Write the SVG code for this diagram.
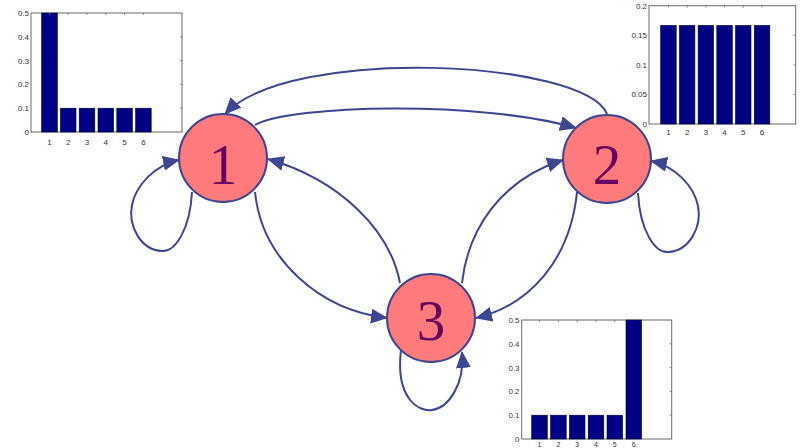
<svg xmlns="http://www.w3.org/2000/svg" width="800" height="448" viewBox="0 0 800 448">
<style>
.ax{fill:#fff;stroke:#6a6a6a;stroke-width:1}
.bar{fill:#000084;stroke:#000033;stroke-width:0.6}
.tl{font-family:"Liberation Sans",Arial,sans-serif;font-size:8px;fill:#333}
.tick{stroke:#6a6a6a;stroke-width:0.8}
.edge{fill:none;stroke:#3d4791;stroke-width:2}
.node{fill:#ff7b7b;stroke:#3d4791;stroke-width:2}
.lab{font-family:"Liberation Serif","DejaVu Serif",serif;font-size:57px;fill:#650060;text-anchor:middle}
</style>
<defs>
<marker id="ah" markerUnits="userSpaceOnUse" markerWidth="17" markerHeight="15" viewBox="0 0 17 15" refX="16" refY="7.5" orient="auto">
<path d="M0,0 L17,7.5 L0,15 z" fill="#3d4791"/>
</marker>
</defs>
<rect width="800" height="448" fill="#fff"/>

<g id="chart1">
<rect class="ax" x="31" y="13" width="151" height="119"/>
<g class="bar">
<rect x="41.7" y="13" width="15.6" height="119"/>
<rect x="60.4" y="108.2" width="15.6" height="23.8"/>
<rect x="79.2" y="108.2" width="15.6" height="23.8"/>
<rect x="98" y="108.2" width="15.6" height="23.8"/>
<rect x="116.8" y="108.2" width="15.6" height="23.8"/>
<rect x="135.6" y="108.2" width="15.6" height="23.8"/>
</g>
<g class="tick">
<path d="M49.5,13v2M68.2,13v2M87,13v2M105.8,13v2M124.6,13v2M143.4,13v2"/>
<path d="M182,36.8h-2M182,60.6h-2M182,84.4h-2M182,108.2h-2"/>
</g>
<g class="tl" text-anchor="end">
<text x="29" y="16">0.5</text>
<text x="29" y="39.8">0.4</text>
<text x="29" y="63.6">0.3</text>
<text x="29" y="87.4">0.2</text>
<text x="29" y="111.2">0.1</text>
<text x="29" y="135">0</text>
</g>
<g class="tl" text-anchor="middle">
<text x="49.5" y="144.5">1</text>
<text x="68.2" y="144.5">2</text>
<text x="87" y="144.5">3</text>
<text x="105.8" y="144.5">4</text>
<text x="124.6" y="144.5">5</text>
<text x="143.4" y="144.5">6</text>
</g>
</g>

<g id="chart2">
<rect class="ax" x="649" y="5.7" width="146.7" height="118.3"/>
<g class="bar">
<rect x="660.7" y="25.4" width="15.5" height="98.6"/>
<rect x="679.4" y="25.4" width="15.5" height="98.6"/>
<rect x="698.1" y="25.4" width="15.5" height="98.6"/>
<rect x="716.8" y="25.4" width="15.5" height="98.6"/>
<rect x="735.5" y="25.4" width="15.5" height="98.6"/>
<rect x="754.3" y="25.4" width="15.5" height="98.6"/>
</g>
<g class="tick">
<path d="M668.5,5.7v2M687.2,5.7v2M705.9,5.7v2M724.6,5.7v2M743.3,5.7v2M762,5.7v2"/>
<path d="M795.7,35.3h-2M795.7,64.9h-2M795.7,94.4h-2"/>
</g>
<g class="tl" text-anchor="end">
<text x="647" y="8.7">0.2</text>
<text x="647" y="38.3">0.15</text>
<text x="647" y="67.9">0.1</text>
<text x="647" y="97.4">0.05</text>
<text x="647" y="127">0</text>
</g>
<g class="tl" text-anchor="middle">
<text x="668.5" y="135">1</text>
<text x="687.2" y="135">2</text>
<text x="705.9" y="135">3</text>
<text x="724.6" y="135">4</text>
<text x="743.3" y="135">5</text>
<text x="762" y="135">6</text>
</g>
</g>

<g id="chart3">
<rect class="ax" x="521.7" y="320" width="150" height="119"/>
<g class="bar">
<rect x="531.7" y="415.2" width="15.6" height="23.8"/>
<rect x="550.6" y="415.2" width="15.6" height="23.8"/>
<rect x="569.4" y="415.2" width="15.6" height="23.8"/>
<rect x="588.2" y="415.2" width="15.6" height="23.8"/>
<rect x="607" y="415.2" width="15.6" height="23.8"/>
<rect x="626" y="320" width="15.6" height="119"/>
</g>
<g class="tick">
<path d="M539.5,320v2M558.4,320v2M577.2,320v2M596,320v2M614.8,320v2"/>
<path d="M671.7,343.8h-2M671.7,367.6h-2M671.7,391.4h-2M671.7,415.2h-2"/>
</g>
<g class="tl" text-anchor="end">
<text x="519.5" y="323">0.5</text>
<text x="519.5" y="346.8">0.4</text>
<text x="519.5" y="370.6">0.3</text>
<text x="519.5" y="394.4">0.2</text>
<text x="519.5" y="418.2">0.1</text>
<text x="519.5" y="442">0</text>
</g>
<g class="tl" text-anchor="middle" style="font-size:7px">
<text x="539.5" y="447">1</text>
<text x="558.4" y="447">2</text>
<text x="577.2" y="447">3</text>
<text x="596" y="447">4</text>
<text x="614.8" y="447">5</text>
<text x="633.8" y="447">6</text>
</g>
</g>

<g id="connectors">
<path class="edge" marker-end="url(#ah)" d="M607,114 C585,60 290,45 225,114"/>
<path class="edge" marker-end="url(#ah)" d="M255,125 C290,105 480,100 576,128"/>
<path class="edge" marker-end="url(#ah)" d="M192,192 C190,230 175,252 162,251 C140,250 128,225 132,205 C136,185 155,165 179,160"/>
<path class="edge" marker-end="url(#ah)" d="M255,192 C262,260 320,310 387,318"/>
<path class="edge" marker-end="url(#ah)" d="M400,283 C390,230 340,180 268,159"/>
<path class="edge" marker-end="url(#ah)" d="M462,283 C468,230 500,180 563,160"/>
<path class="edge" marker-end="url(#ah)" d="M577,192 C570,260 530,305 476,318"/>
<path class="edge" marker-end="url(#ah)" d="M638,193 C640,231 655,253 668,252 C690,251 702,226 698,206 C694,186 675,166 651,161"/>
<path class="edge" marker-end="url(#ah)" d="M401,350 C395,400 420,412 432,410 C448,408 465,385 462,352"/>
</g>

<g id="node1">
<circle class="node" cx="223" cy="158" r="44"/>
<text class="lab" x="223" y="184">1</text>
</g>
<g id="node2">
<circle class="node" cx="607" cy="159" r="44"/>
<text class="lab" x="607" y="184">2</text>
</g>
<g id="node3">
<circle class="node" cx="431" cy="318" r="44"/>
<text class="lab" x="431" y="340">3</text>
</g>
</svg>
